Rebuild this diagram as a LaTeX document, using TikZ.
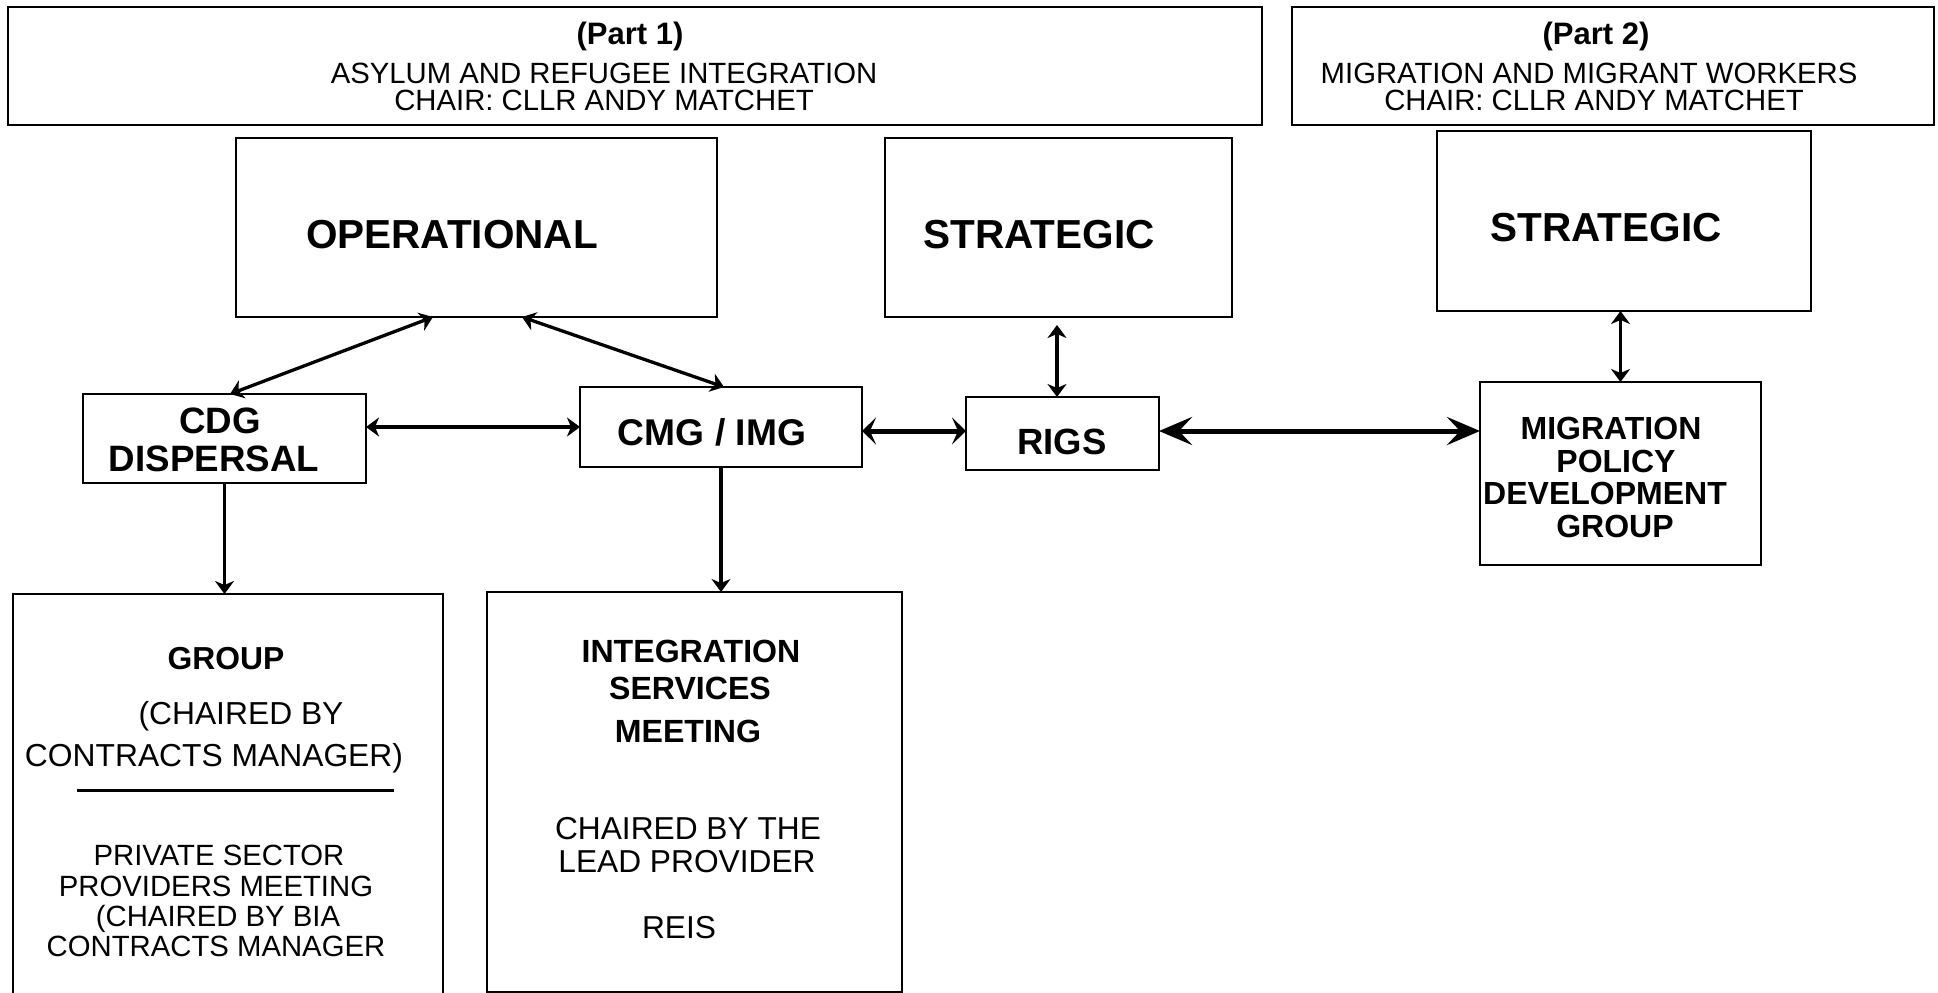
\documentclass[tikz,border=0pt]{standalone}
\usepackage{fontspec}
\setmainfont{Liberation Sans}
\usetikzlibrary{arrows.meta,calc}

\tikzset{
  box/.style={draw, line width=2.5pt, inner sep=0pt, outer sep=0pt},
  reg/.style={inner sep=0pt, anchor=base, font=\fontsize{#1}{#1}\selectfont},
  bld/.style={inner sep=0pt, anchor=base, font=\fontsize{#1}{#1}\selectfont\bfseries},
  thinarrow/.style={line width=3.3pt,
    {Stealth[length=13pt,width=19pt,inset=4pt]}-{Stealth[length=13pt,width=19pt,inset=4pt]}},
  downarrow/.style={line width=3.3pt, -{Stealth[length=13pt,width=19pt,inset=4pt]}},
  midarrow/.style={line width=5pt,
    {Stealth[length=14pt,width=27pt,inset=6pt]}-{Stealth[length=14pt,width=27pt,inset=6pt]}},
  bigarrow/.style={line width=5pt,
    {Stealth[length=33pt,width=28pt,inset=13pt]}-{Stealth[length=33pt,width=28pt,inset=13pt]}},
}

\begin{document}
\begin{tikzpicture}[x=1pt,y=-1pt]
\path[use as bounding box] (0,0) rectangle (1938,993);
\clip (0,0) rectangle (1938,993);

% header panels
\node[box, minimum width=1254pt, minimum height=118pt] (part1) at (635,66) {};
\node[box, minimum width=642pt, minimum height=118pt] (part2) at (1613,66) {};

\node[bld=31]   (p1title) at (630,44)  {(Part 1)};
\node[reg=29.3] (p1line1) at (604,83)  {ASYLUM AND REFUGEE INTEGRATION};
\node[reg=29.3] (p1line2) at (604,110.5) {CHAIR: CLLR ANDY MATCHET};

\node[bld=31]   (p2title) at (1596,44)  {(Part 2)};
\node[reg=29.3] (p2line1) at (1589,83)  {MIGRATION AND MIGRANT WORKERS};
\node[reg=29.3] (p2line2) at (1594,110.5) {CHAIR: CLLR ANDY MATCHET};

% main boxes
\node[box, minimum width=481pt, minimum height=179pt] (op)   at (476.5,227.5) {};
\node[box, minimum width=347pt, minimum height=179pt] (st1)  at (1058.5,227.5) {};
\node[box, minimum width=374pt, minimum height=180pt] (st2)  at (1624,221) {};
\node[box, minimum width=283pt, minimum height=89pt]  (cdg)  at (224.5,438.5) {};
\node[box, minimum width=282pt, minimum height=80pt]  (cmg)  at (721,427) {};
\node[box, minimum width=193pt, minimum height=73pt]  (rigs) at (1062.5,433.5) {};
\node[box, minimum width=281pt, minimum height=183pt] (mpdg) at (1620.5,473.5) {};
\node[box, minimum width=430pt, minimum height=430pt] (grp)  at (228,809) {};
\node[box, minimum width=415pt, minimum height=400pt] (isg)  at (694.5,792) {};

% box texts
\node[bld=40.5] (opT)  at (452,248.5) {OPERATIONAL};
\node[bld=40.5] (st1T) at (1039,248.5) {STRATEGIC};
\node[bld=40.5] (st2T) at (1606,241.5) {STRATEGIC};

\node[bld=36.7] (cdgT1) at (220,433) {CDG};
\node[bld=36.7] (cdgT2) at (214,471) {DISPERSAL};
\node[bld=37.2] (cmgT) at (712,445) {CMG / IMG};
\node[bld=36.5] (rigsT) at (1062,454.5) {RIGS};

\node[bld=32] (mpT1) at (1611,439.5) {MIGRATION};
\node[bld=32] (mpT2) at (1616,472.5) {POLICY};
\node[bld=32] (mpT3) at (1605,504.5) {DEVELOPMENT};
\node[bld=32] (mpT4) at (1615,537.5) {GROUP};

\node[bld=31.8] (grT1) at (226,669.5) {GROUP};
\node[reg=31.8] (grT2) at (241,724.5) {(CHAIRED BY};
\node[reg=31.8] (grT3) at (214,766.5) {CONTRACTS MANAGER)};
\draw[line width=3pt] ($(grp.north west)+(64,196)$) coordinate (ruleL) -- ++(317,0) coordinate (ruleR);
\node[reg=29.3] (grT4) at (219,865.5) {PRIVATE SECTOR};
\node[reg=29.3] (grT5) at (216,896.5) {PROVIDERS MEETING};
\node[reg=29.3] (grT6) at (218,926.5) {(CHAIRED BY BIA};
\node[reg=29.3] (grT7) at (216,956) {CONTRACTS MANAGER};

\node[bld=32.1] (isT1) at (691,662.5) {INTEGRATION};
\node[bld=32.1] (isT2) at (690,699.5) {SERVICES};
\node[bld=32.1] (isT3) at (688,742.5) {MEETING};
\node[reg=31.7] (isT4) at (688,839.5) {CHAIRED BY THE};
\node[reg=31.7] (isT5) at (687,872.5) {LEAD PROVIDER};
\node[reg=31.7] (isT6) at (679,938.5) {REIS};

% connectors
\draw[thinarrow] ($(op.south west)+(197,0)$) -- ($(cdg.north west)+(147,0)$);
\draw[thinarrow] ($(op.south west)+(286,0)$) -- ($(cmg.north west)+(144,0)$);
\draw[thinarrow] (cdg.east |- cmg.west) -- (cmg.west);
\draw[midarrow] ($(cmg.east)+(0,4)$) -- ($(rigs.west)+(0,-2.5)$);
\draw[bigarrow] ($(rigs.east)+(0,-2.5)$) -- ($(mpdg.west)+(0,-42.5)$);
\draw[thinarrow] ($(st1.south)+(-1.5,8)$) -- ($(rigs.north)+(-5.5,0)$);
\draw[thinarrow] (st2.south -| mpdg.north) -- (mpdg.north);
\draw[downarrow] (cdg.south) -- (cdg.south |- grp.north);
\draw[downarrow] (cmg.south) -- (cmg.south |- isg.north);
\end{tikzpicture}
\end{document}
